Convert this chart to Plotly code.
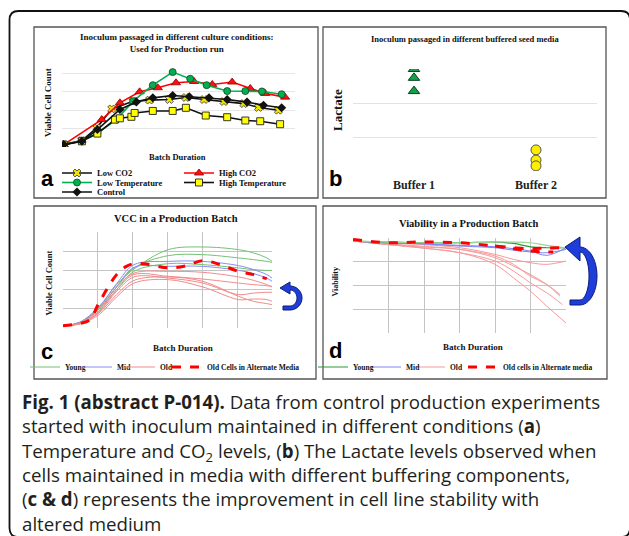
import math
import plotly.graph_objects as go

W, H = 629, 536


def fx(p):
    return p / W


def fy(p):
    return 1 - p / H


# ---------------- Panel a data (Viable Cell Count vs Batch Duration) ----------------
a_low_co2_x = [0, 1.17, 2.13, 3.09, 4.47, 5.53, 6.81, 7.87, 9.04, 10.32, 11.6, 12.55, 13.83]
a_low_co2_y = [0.13, 0.35, 1.04, 2.07, 2.49, 2.55, 2.58, 2.69, 2.58, 2.47, 2.36, 2.15, 2.0]
a_high_co2_x = [0, 2.45, 3.62, 4.89, 6.06, 7.23, 8.4, 9.57, 10.85, 12.02, 12.98, 14.26]
a_high_co2_y = [0.13, 1.49, 2.4, 3.0, 3.22, 3.49, 3.56, 3.4, 3.53, 3.18, 2.91, 2.71]
a_low_temp_x = [0, 1.17, 2.17, 3.4, 4.47, 5.74, 7.02, 8.15, 9.21, 10.53, 11.7, 12.77, 14.04]
a_low_temp_y = [0.13, 0.35, 0.76, 1.49, 2.49, 3.36, 4.07, 3.71, 3.36, 3.04, 3.04, 3.02, 2.87]
a_high_temp_x = [0, 1.17, 2.17, 3.3, 3.62, 4.36, 4.57, 5.74, 7.02, 7.87, 9.15, 10.53, 11.7, 12.66, 13.94]
a_high_temp_y = [0.13, 0.31, 0.73, 1.49, 1.56, 1.64, 1.85, 1.96, 1.96, 2.13, 1.71, 1.62, 1.44, 1.4, 1.24]
a_control_x = [0, 1.17, 2.17, 3.62, 4.68, 5.74, 7.02, 8.09, 9.36, 10.53, 11.81, 12.87, 14.04]
a_control_y = [0.13, 0.31, 0.95, 2.04, 2.45, 2.67, 2.8, 2.73, 2.67, 2.58, 2.44, 2.27, 2.13]

# ---------------- Panel b data (Lactate by buffer) ----------------
b_categories = ["Buffer 1", "Buffer 2"]
b_buffer1 = [3.0, 2.74, 2.35]
b_buffer2 = [0.62, 0.32, 0.15]

# ---------------- Panel c data (VCC in a production batch) ----------------
c_x = [0, 0.48, 1.03, 1.54, 2.04, 3.02, 4.01, 5.04, 5.47, 5.85, 6.0]
c_young = [
    [0.12, 0.30, 1.09, 2.26, 3.07, 4.08, 4.22, 4.08, 3.91, 3.65, 3.47],
    [0.12, 0.26, 1.04, 2.14, 3.13, 3.77, 3.82, 3.65, 3.56, 3.47, 3.42],
    [0.12, 0.26, 0.95, 2.0, 2.95, 3.35, 3.3, 3.13, 3.04, 3.0, 3.0],
]
c_mid = [
    [0.12, 0.30, 1.09, 2.31, 3.3, 3.47, 3.47, 3.25, 3.04, 2.78, 2.6],
    [0.12, 0.26, 0.99, 2.14, 3.16, 3.21, 3.21, 3.0, 2.83, 2.6, 2.43],
]
c_old = [
    [0.12, 0.26, 0.99, 2.14, 2.86, 2.95, 2.9, 2.66, 2.48, 2.26, 2.14],
    [0.12, 0.23, 0.87, 2.0, 2.78, 2.69, 2.55, 2.34, 2.26, 2.2, 2.17],
    [0.12, 0.23, 0.82, 1.91, 2.66, 2.6, 2.34, 1.74, 1.82, 1.86, 1.86],
    [0.12, 0.21, 0.78, 1.74, 2.48, 2.66, 2.43, 1.65, 1.39, 1.27, 1.22],
    [0.12, 0.21, 0.69, 1.62, 2.34, 2.52, 2.14, 1.48, 1.51, 1.48, 1.39],
]
c_alt_x = [0, 0.48, 0.77, 1.03, 1.54, 1.82, 2.04, 2.4, 3.02, 3.55, 4.01, 4.51, 5.04, 5.47, 5.85]
c_alt_y = [0.12, 0.23, 0.43, 1.3, 2.78, 3.21, 3.35, 3.33, 3.13, 3.25, 3.51, 3.3, 2.95, 2.78, 2.57]

# ---------------- Panel d data (Viability in a production batch) ----------------
d_x = [0, 0.94, 1.88, 3.01, 4.0, 4.52, 5.0, 5.46, 6.0]
d_young = [
    [3.87, 3.83, 3.8, 3.8, 3.83, 3.77, 3.63, 3.59, 3.59],
    [3.87, 3.83, 3.8, 3.8, 3.83, 3.83, 3.8, 3.69, 3.59],
]
d_mid = [
    [3.87, 3.8, 3.76, 3.69, 3.63, 3.55, 3.45, 3.27, 3.59],
    [3.87, 3.8, 3.76, 3.66, 3.59, 3.49, 3.41, 3.38, 3.52],
]
d_old_x = [
    [0, 0.94, 1.88, 3.01, 4.0, 4.52, 5.0, 5.46, 6.0],
    [0, 0.94, 1.88, 3.01, 4.0, 4.52, 5.0, 5.46, 5.83],
    [0, 0.94, 1.88, 3.01, 4.0, 4.52, 5.0, 5.46, 5.9],
    [0, 0.94, 1.88, 3.01, 4.0, 4.52, 5.0, 5.46, 5.83],
    [0, 0.94, 1.88, 3.01, 4.0, 4.52, 5.0, 5.46, 6.0],
]
d_old_y = [
    [3.87, 3.8, 3.73, 3.59, 3.31, 3.1, 2.96, 2.89, 3.03],
    [3.87, 3.76, 3.66, 3.52, 3.17, 2.82, 2.46, 2.04, 1.55],
    [3.87, 3.73, 3.59, 3.38, 3.03, 2.61, 2.11, 1.69, 1.2],
    [3.87, 3.73, 3.63, 3.52, 3.24, 2.89, 2.39, 2.04, 1.62],
    [3.87, 3.73, 3.59, 3.38, 2.89, 2.32, 1.76, 1.13, 0.42],
]
d_alt_x = [[0, 0.94, 1.88, 3.01, 4.0, 4.52, 5.0, 5.46, 6.0], [4.0, 4.52, 5.0, 5.46, 5.64]]
d_alt_y = [[3.94, 3.8, 3.83, 3.8, 3.66, 3.59, 3.55, 3.58, 3.59], [3.66, 3.55, 3.45, 3.41, 3.41]]

caption_lines = [
    "<b>Fig. 1 (abstract P-014).</b> Data from control production experiments",
    "started with inoculum maintained in different conditions (<b>a</b>)",
    "Temperature and CO<sub>2</sub> levels, (<b>b</b>) The Lactate levels observed when",
    "cells maintained in media with different buffering components,",
    "(<b>c &amp; d</b>) represents the improvement in cell line stability with",
    "altered medium",
]

SERIF = "Liberation Serif"
SANS = "Liberation Sans"

fig = go.Figure()

# ---------- panel a traces ----------
a_series = [
    ("Low CO2", a_low_co2_x, a_low_co2_y, "#111111", dict(symbol="x", size=7, color="#f2e600", line=dict(color="#333", width=0.8)), "legend"),
    ("High CO2", a_high_co2_x, a_high_co2_y, "#ff0000", dict(symbol="triangle-up", size=8, color="#ff1010", line=dict(color="#8b0000", width=0.8)), "legend2"),
    ("Low Temperature", a_low_temp_x, a_low_temp_y, "#00b050", dict(symbol="circle", size=7, color="#00b050", line=dict(color="#114422", width=0.8)), "legend3"),
    ("High Temperature", a_high_temp_x, a_high_temp_y, "#111111", dict(symbol="square", size=7, color="#ffff00", line=dict(color="#222", width=0.9)), "legend4"),
    ("Control", a_control_x, a_control_y, "#111111", dict(symbol="diamond", size=7, color="#111111"), "legend5"),
]
for name, xs, ys, lc, mk, lg in a_series:
    fig.add_trace(go.Scatter(x=xs, y=ys, mode="lines+markers", name=name,
                             line=dict(color=lc, width=1.6), marker=mk,
                             xaxis="x", yaxis="y", legend=lg))

# ---------- panel b traces ----------
fig.add_trace(go.Scatter(x=[b_categories[0]] * len(b_buffer1), y=b_buffer1, mode="markers",
                         marker=dict(symbol="triangle-up", size=10, color="#12a14b",
                                     line=dict(color="#0b3d1f", width=1)),
                         xaxis="x2", yaxis="y2", showlegend=False))
fig.add_trace(go.Scatter(x=[b_categories[1]] * len(b_buffer2), y=b_buffer2, mode="markers",
                         marker=dict(symbol="circle", size=10, color="#ffee00",
                                     line=dict(color="#555", width=1)),
                         xaxis="x2", yaxis="y2", showlegend=False))

# ---------- panel c traces ----------
for i, ys in enumerate(c_young):
    fig.add_trace(go.Scatter(x=c_x, y=ys, mode="lines", name="Young",
                             line=dict(color="#72c272", width=1, shape="spline"),
                             xaxis="x3", yaxis="y3", legend="legend6", showlegend=(i == 0)))
for i, ys in enumerate(c_mid):
    fig.add_trace(go.Scatter(x=c_x, y=ys, mode="lines", name="Mid",
                             line=dict(color="#8a8cf0", width=1, shape="spline"),
                             xaxis="x3", yaxis="y3", legend="legend7", showlegend=(i == 0)))
for i, ys in enumerate(c_old):
    fig.add_trace(go.Scatter(x=c_x, y=ys, mode="lines", name="Old",
                             line=dict(color="#f38a8a", width=1, shape="spline"),
                             xaxis="x3", yaxis="y3", legend="legend8", showlegend=(i == 0)))
fig.add_trace(go.Scatter(x=c_alt_x, y=c_alt_y, mode="lines", name="Old Cells in Alternate Media",
                         line=dict(color="#ff0000", width=3, dash="dash", shape="spline"),
                         xaxis="x3", yaxis="y3", legend="legend9"))

# ---------- panel d traces ----------
for i, ys in enumerate(d_old_y):
    fig.add_trace(go.Scatter(x=d_old_x[i], y=ys, mode="lines", name="Old",
                             line=dict(color="#f59a9a", width=1, shape="spline"),
                             xaxis="x4", yaxis="y4", legend="legend12", showlegend=(i == 0)))
for i, ys in enumerate(d_mid):
    fig.add_trace(go.Scatter(x=d_x, y=ys, mode="lines", name="Mid",
                             line=dict(color="#7f83f0", width=1, shape="spline"),
                             xaxis="x4", yaxis="y4", legend="legend11", showlegend=(i == 0)))
for i, ys in enumerate(d_young):
    fig.add_trace(go.Scatter(x=d_x, y=ys, mode="lines", name="Young",
                             line=dict(color="#2e9a3a" if i == 0 else "#9ad49a", width=1.2, shape="spline"),
                             xaxis="x4", yaxis="y4", legend="legend10", showlegend=(i == 0)))
for i in range(len(d_alt_x)):
    fig.add_trace(go.Scatter(x=d_alt_x[i], y=d_alt_y[i], mode="lines", name="Old cells in Alternate media",
                             line=dict(color="#ff0000", width=3, dash="dash", shape="spline"),
                             xaxis="x4", yaxis="y4", legend="legend13", showlegend=(i == 0)))

# ---------- axes ----------
hidden = dict(showticklabels=False, ticks="", zeroline=False, showline=False, fixedrange=True)
fig.update_layout(
    xaxis=dict(domain=[fx(62), fx(295)], range=[-0.11, 14.9], showgrid=False, anchor="y", **hidden),
    yaxis=dict(domain=[fy(147), fy(55)], range=[0, 5], dtick=1, showgrid=True, gridcolor="#e6e6e6",
               anchor="x", **hidden),
    xaxis2=dict(domain=[fx(353), fx(597)], type="category", categoryorder="array",
                categoryarray=b_categories, range=[-0.5, 1.5], showgrid=False, anchor="y2",
                tickmode="array", tickvals=b_categories,
                ticktext=["<b>" + c + "</b>" for c in b_categories],
                tickfont=dict(family=SERIF, size=12, color="#222"), ticks="",
                ticklabelstandoff=5, zeroline=False, showline=False, fixedrange=True),
    yaxis2=dict(domain=[fy(171), fy(69)], range=[0, 3], dtick=1, showgrid=True, gridcolor="#e2e2e2",
                anchor="x2", **hidden),
    xaxis3=dict(domain=[fx(63), fx(272)], range=[0, 6], dtick=1, showgrid=True, gridcolor="#c4c4c4",
                anchor="y3", **hidden),
    yaxis3=dict(domain=[fy(328), fy(232)], range=[0, 5], dtick=1, showgrid=True, gridcolor="#c4c4c4",
                anchor="x3", **hidden),
    xaxis4=dict(domain=[fx(353), fx(566)], range=[0, 6], dtick=1, showgrid=True, gridcolor="#c4c4c4",
                anchor="y4", **hidden),
    yaxis4=dict(domain=[fy(333), fy(238)], range=[0, 4], dtick=1, showgrid=True, gridcolor="#c4c4c4",
                anchor="x4", **hidden),
)


# ---------- legends (one per entry, placed like the original keys) ----------
def leg(text_x, cy, size):
    return dict(x=fx(text_x - 40), y=fy(cy), xanchor="left", yanchor="middle",
                orientation="v", bgcolor="rgba(0,0,0,0)", borderwidth=0,
                font=dict(family=SERIF, size=size, color="#111", weight="bold"), itemwidth=30)


legend_pos = {
    "legend": (97, 173, 8.5), "legend2": (219, 173, 8.5), "legend3": (97, 182.5, 8.5),
    "legend4": (219, 182.5, 8.5), "legend5": (97, 192, 8.5),
    "legend6": (65, 367, 7.5), "legend7": (117, 367, 7.5), "legend8": (160, 367, 7.5),
    "legend9": (207, 367, 7.5),
    "legend10": (353, 367, 7.5), "legend11": (406, 367, 7.5), "legend12": (450, 367, 7.5),
    "legend13": (503, 367, 7.5),
}
fig.update_layout(**{k: leg(*v) for k, v in legend_pos.items()})

# ---------- text ----------
ann = []


def text(x, y, s, size, family=SERIF, angle=0, xanchor="center", color="#111"):
    ann.append(dict(x=fx(x), y=fy(y), xref="paper", yref="paper", text=s, showarrow=False,
                    xanchor=xanchor, yanchor="middle", textangle=angle,
                    font=dict(family=family, size=size, color=color), align="center"))


text(176, 43, "<b>Inoculum passaged in different culture conditions:<br>Used for Production run</b>", 9)
text(48, 103, "<b>Viable Cell Count</b>", 9, angle=-90)
text(177, 157, "<b>Batch Duration</b>", 8.5)
text(465, 39, "<b>Inoculum passaged in different buffered seed media</b>", 8.5)
text(338, 110, "<b>Lactate</b>", 13, angle=-90)
text(176, 219, "<b>VCC in a Production Batch</b>", 10.5)
text(48.5, 283, "<b>Viable Cell Count</b>", 8.5, angle=-90)
text(183, 348, "<b>Batch Duration</b>", 9)
text(469, 223, "<b>Viability in a Production Batch</b>", 10.5)
text(334.5, 282, "<b>Viability</b>", 8, angle=-90)
text(473, 347, "<b>Batch Duration</b>", 9)

for lab, x, y in [("a", 47, 179), ("b", 335, 179), ("c", 47, 351), ("d", 335, 350)]:
    text(x, y, "<b>" + lab + "</b>", 22, family=SANS, color="#000")

ann.append(dict(x=fx(20), y=fy(462.5), xref="paper", yref="paper", text="<br>".join(caption_lines),
                showarrow=False, xanchor="left", yanchor="middle",
                font=dict(family="Open Sans", size=18.7, color="#231f20"), align="left"))

# ---------- frames & arrows ----------
shapes = []


def rect(x0, y0, x1, y1, color="#555", width=1.3):
    shapes.append(dict(type="rect", xref="paper", yref="paper", x0=fx(x0), x1=fx(x1),
                       y0=fy(y1), y1=fy(y0), line=dict(color=color, width=width),
                       fillcolor="rgba(0,0,0,0)", layer="below"))


rect(34, 27, 318, 198)
rect(323, 27, 606, 198)
rect(34, 206, 316, 379)
rect(323, 206, 607, 379)


def pth(points):
    return "M " + " L ".join(f"{fx(x):.5f},{fy(y):.5f}" for x, y in points) + " Z"


def rounded(l, t, r, b, rad):
    s = f"M {fx(l):.5f},{fy(b - rad):.5f} L {fx(l):.5f},{fy(t + rad):.5f} "
    s += f"Q {fx(l):.5f},{fy(t):.5f} {fx(l + rad):.5f},{fy(t):.5f} "
    s += f"L {fx(r - rad):.5f},{fy(t):.5f} Q {fx(r):.5f},{fy(t):.5f} {fx(r):.5f},{fy(t + rad):.5f} "
    s += f"L {fx(r):.5f},{fy(b - rad):.5f} Q {fx(r):.5f},{fy(b):.5f} {fx(r - rad):.5f},{fy(b):.5f} "
    s += f"L {fx(l + rad):.5f},{fy(b):.5f} Q {fx(l):.5f},{fy(b):.5f} {fx(l):.5f},{fy(b - rad):.5f} Z"
    return s


shapes.append(dict(type="path", xref="paper", yref="paper", path=rounded(9.5, 11, 630, 537, 9),
                   line=dict(color="#111", width=1.8), fillcolor="rgba(0,0,0,0)"))


def curved_arrow(cx, cy, rxo, ryo, rxi, ryi, tail_x, head_base_top, head_base_bot, tip):
    pts = []
    n = 24
    for k in range(n + 1):
        t = -math.pi / 2 + math.pi * k / n
        pts.append((cx + rxo * math.cos(t), cy + ryo * math.sin(t)))
    pts.append((tail_x, cy + ryo))
    pts.append((tail_x, cy + ryi))
    for k in range(n + 1):
        t = math.pi / 2 - math.pi * k / n
        pts.append((cx + rxi * math.cos(t), cy + ryi * math.sin(t)))
    pts.append((cx, head_base_bot))
    pts.append(tip)
    pts.append((cx, head_base_top))
    return pth(pts)


shapes.append(dict(type="path", xref="paper", yref="paper",
                   path=curved_arrow(290, 298, 12, 12, 7, 8, 283, 282, 294, (280, 288)),
                   fillcolor="#1f3ddb", line=dict(color="#0c1d78", width=1)))
shapes.append(dict(type="path", xref="paper", yref="paper",
                   path=curved_arrow(580, 276, 17, 29, 9, 24, 570, 237, 261, (565, 247)),
                   fillcolor="#1f3ddb", line=dict(color="#0c1d78", width=1)))

fig.update_layout(
    width=W, height=H, margin=dict(l=0, r=0, t=0, b=0),
    paper_bgcolor="white", plot_bgcolor="white",
    annotations=ann, shapes=shapes, hovermode=False,
)

fig.write_html("out.html")
